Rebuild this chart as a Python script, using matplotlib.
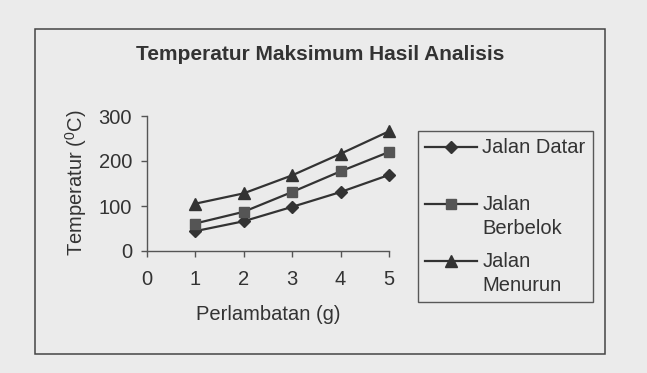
import numpy as np
import matplotlib
matplotlib.use("Agg")
import matplotlib.pyplot as plt
from matplotlib.patches import Rectangle
from matplotlib.legend_handler import HandlerLine2D
from matplotlib.transforms import Affine2D

plt.rcParams["font.family"] = ["Liberation Sans", "DejaVu Sans"]
plt.rcParams["mathtext.fontset"] = "custom"
plt.rcParams["mathtext.rm"] = "Liberation Sans"
plt.rcParams["mathtext.it"] = "Liberation Sans"

# data
perlambatan = [1, 2, 3, 4, 5]
jalan_datar = [44, 66, 98, 131, 169]
jalan_berbelok = [61, 87, 131, 177, 220]
jalan_menurun = [105, 128, 168, 216, 266]
series_labels = ["Jalan Datar\n ", "Jalan\nBerbelok", "Jalan\nMenurun"]
x_ticks = [0, 1, 2, 3, 4, 5]
y_ticks = [0, 100, 200, 300]

BG = "#ebebeb"
INK = "#333333"
FS = 14.5

W, H = 647, 373
fig = plt.figure(figsize=(W / 100, H / 100), dpi=100, facecolor=BG)

# outer chart frame
fig.patches.append(Rectangle((35 / W, 1 - 354 / H), 570 / W, 325 / H,
                             transform=fig.transFigure, facecolor="none",
                             edgecolor="#444444", lw=1.1, zorder=0))

ax = fig.add_axes([146.5 / W, 1 - 251 / H, 242.5 / W, 135 / H])
ax.set_facecolor("none")
ax.set_zorder(2)

l1, = ax.plot(perlambatan, jalan_datar, "-D", color=INK, lw=1.6, ms=6.5,
              clip_on=False)
l2, = ax.plot(perlambatan, jalan_berbelok, "-s", color=INK, lw=1.6, ms=7,
              mfc="#555555", mec="#555555", clip_on=False)
l3, = ax.plot(perlambatan, jalan_menurun, "-^", color=INK, lw=1.6, ms=8,
              clip_on=False)

ax.set_xlim(0, 5)
ax.set_ylim(0, 300)
ax.set_xticks(x_ticks)
ax.set_yticks(y_ticks)
for s in ["top", "right"]:
    ax.spines[s].set_visible(False)
for s in ["left", "bottom"]:
    ax.spines[s].set_color("#555555")
    ax.spines[s].set_linewidth(1.0)
ax.tick_params(axis="x", direction="out", length=4, width=1.0, color="#555555",
               labelsize=FS, labelcolor=INK, pad=10)
ax.tick_params(axis="y", direction="out", length=4, width=1.0, color="#555555",
               labelsize=FS, labelcolor=INK, pad=6.5)

ax.set_xlabel("Perlambatan (g)", fontsize=FS, color=INK)
ax.xaxis.set_label_coords(0.501, -0.474)
ax.xaxis.label.set_va("center")
ax.set_ylabel(r"Temperatur ($^{0}$C)", fontsize=FS, color=INK)
ax.yaxis.set_label_coords(-0.291, 0.504)
ax.yaxis.label.set_va("center")

fig.text(320 / W, 1 - 54 / H, "Temperatur Maksimum Hasil Analisis",
         fontsize=15, fontweight="bold", color=INK, ha="center", va="center")


class TopLineHandler(HandlerLine2D):
    # put the legend sample beside the first text line
    def create_artists(self, legend, orig_handle, xdescent, ydescent, width,
                       height, fontsize, trans):
        shift = Affine2D().translate(0, 0.63 * fontsize)
        return super().create_artists(legend, orig_handle, xdescent, ydescent,
                                      width, height, fontsize, shift + trans)


leg = ax.legend([l1, l2, l3], series_labels, loc="upper left",
                bbox_to_anchor=(418 / W, 1 - 131 / H),
                bbox_transform=fig.transFigure, fontsize=FS, frameon=True,
                fancybox=False, borderpad=0.35, borderaxespad=0,
                labelspacing=0.72, handlelength=2.6, handletextpad=0.25,
                handler_map={l1: TopLineHandler(), l2: TopLineHandler(),
                             l3: TopLineHandler()})
leg.get_frame().set_edgecolor("#333333")
leg.get_frame().set_facecolor(BG)
leg.get_frame().set_linewidth(1.0)
for t in leg.get_texts():
    t.set_color(INK)
    t.set_linespacing(1.3)

fig.savefig("out.png", dpi=100, facecolor=BG)
